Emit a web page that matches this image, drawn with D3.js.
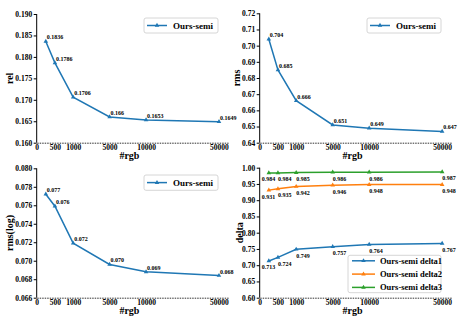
<!DOCTYPE html>
<html><head><meta charset="utf-8">
<script src="https://cdn.jsdelivr.net/npm/d3@7/dist/d3.min.js"></script>
<style>
body{margin:0;background:#fff;}
text{font-family:"Liberation Serif","Times New Roman",serif;font-weight:bold;fill:#000;}
</style></head>
<body>
<svg id="c" width="466" height="322"></svg>
<script>
// ---- data ----
const rgbCounts = [250, 500, 1000, 5000, 10000, 50000];
const xTickValues = [0, 500, 1000, 5000, 10000, 50000];
const xTickLabels = ["0", "500", "1000", "5000", "10000", "50000"];
const relValues = [0.1836, 0.1786, 0.1706, 0.166, 0.1653, 0.1649];
const relLabels = ["0.1836", "0.1786", "0.1706", "0.166", "0.1653", "0.1649"];
const rmsValues = [0.704, 0.685, 0.666, 0.651, 0.649, 0.647];
const rmsLabels = ["0.704", "0.685", "0.666", "0.651", "0.649", "0.647"];
const rmsLogValues = [0.0772, 0.0759, 0.0719, 0.0696, 0.0688, 0.0684];
const rmsLogLabels = ["0.077", "0.076", "0.072", "0.070", "0.069", "0.068"];
const delta1 = [0.713, 0.724, 0.749, 0.757, 0.764, 0.767];
const delta2 = [0.931, 0.935, 0.942, 0.946, 0.948, 0.948];
const delta3 = [0.984, 0.984, 0.985, 0.986, 0.986, 0.987];
const seriesNames = ["Ours-semi", "Ours-semi delta1", "Ours-semi delta2", "Ours-semi delta3"];
const colors = ["#1f77b4", "#ff7f0e", "#2ca02c"];

const svg = d3.select("#c");

function panel(cfg) {
  const g = svg.append("g");
  const u = (cfg.x1 - cfg.x0) / 5.25;
  const x = d3.scaleLinear()
    .domain([0, 500, 1000, 5000, 10000, 50000, 60000])
    .range([0, 0.5, 1, 2, 3, 5, 5.25].map(p => cfg.x0 + p * u));
  const y = d3.scaleLinear().domain(cfg.yDomain).range([cfg.yb, cfg.yt]);

  // y axis
  const ya = g.append("g").attr("transform", `translate(${cfg.x0},0)`)
    .call(d3.axisLeft(y).tickValues(d3.range(cfg.yDomain[0], cfg.yDomain[1] + cfg.yStep / 2, cfg.yStep))
      .tickFormat(d3.format(cfg.yFmt)).tickSize(3).tickPadding(1.5));
  ya.select(".domain").attr("stroke", "#000").attr("stroke-width", 1).attr("d", `M0,${cfg.yt}V${cfg.yb}`);
  ya.selectAll("text").style("font-size", "7.5px").style("font-family", "Liberation Serif").style("font-weight", "bold");
  ya.selectAll("line").attr("stroke", "#000");

  // x axis
  const xa = g.append("g").attr("transform", `translate(0,${cfg.yb})`)
    .call(d3.axisBottom(x).tickValues(xTickValues).tickFormat((d, i) => xTickLabels[i]).tickSize(0).tickPadding(2));
  xa.select(".domain").attr("stroke", "#333").attr("stroke-width", 1).attr("stroke-dasharray", "1.5,1");
  xa.selectAll("text").style("font-size", "7.5px").style("font-family", "Liberation Serif").style("font-weight", "bold");

  // axis titles
  g.append("text").attr("x", (cfg.x0 + cfg.x1) / 2 - 3).attr("y", cfg.yb + 16)
    .attr("text-anchor", "middle").style("font-size", "10px").text("#rgb");
  g.append("text").attr("transform", `translate(${cfg.ylx},${(cfg.yt + cfg.yb) / 2}) rotate(-90)`)
    .attr("text-anchor", "middle").style("font-size", "10px").text(cfg.ylabel);

  const line = d3.line().x((d, i) => x(rgbCounts[i])).y(d => y(d));
  const tri = d3.symbol().type(d3.symbolTriangle).size(9);

  cfg.series.forEach((s, k) => {
    g.append("path").datum(s.values).attr("d", line).attr("fill", "none")
      .attr("stroke", colors[k]).attr("stroke-width", 1.5);
    g.selectAll(null).data(s.values).enter().append("path")
      .attr("d", tri).attr("fill", colors[k])
      .attr("transform", (d, i) => `translate(${x(rgbCounts[i])},${y(d)})`);
    g.selectAll(null).data(s.values).enter().append("text")
      .attr("x", (d, i) => x(rgbCounts[i]) + (cfg.below ? (i === 0 ? -7 : 0) : 1))
      .attr("y", d => y(d) + (cfg.below ? 8.5 : -2))
      .style("font-size", "6px").text((d, i) => s.labels[i]);
  });

  // legend
  const L = cfg.legend;
  g.append("rect").attr("x", L.x).attr("y", L.y).attr("width", L.w).attr("height", L.h)
    .attr("rx", 2).attr("fill", "#fff").attr("stroke", "#ccc").attr("stroke-width", 0.8);
  cfg.series.forEach((s, k) => {
    const cy = L.y + L.pad + k * L.row;
    g.append("line").attr("x1", L.x + L.lx0).attr("x2", L.x + L.lx1).attr("y1", cy).attr("y2", cy)
      .attr("stroke", colors[k]).attr("stroke-width", 1.5);
    g.append("path").attr("d", tri).attr("fill", colors[k])
      .attr("transform", `translate(${L.x + (L.lx0 + L.lx1) / 2},${cy})`);
    g.append("text").attr("x", L.x + L.tx).attr("y", cy + 3).style("font-size", L.fs + "px").text(s.name);
  });
}

panel({x0: 36.7, x1: 228.1, yt: 14, yb: 142.7, yDomain: [0.160, 0.190], yStep: 0.005, yFmt: ".3f",
  ylabel: "rel", ylx: 13,
  series: [{name: seriesNames[0], values: relValues, labels: relLabels}],
  legend: {x: 144, y: 18, w: 74, h: 15, pad: 7.5, row: 13, lx0: 3, lx1: 23, tx: 29, fs: 9}});

panel({x0: 259.7, x1: 451.3, yt: 13.3, yb: 142.7, yDomain: [0.64, 0.72], yStep: 0.01, yFmt: ".2f",
  ylabel: "rms", ylx: 239.5,
  series: [{name: seriesNames[0], values: rmsValues, labels: rmsLabels}],
  legend: {x: 367, y: 18, w: 74, h: 15, pad: 7.5, row: 13, lx0: 3, lx1: 23, tx: 29, fs: 9}});

panel({x0: 36.7, x1: 228.1, yt: 168.3, yb: 297.7, yDomain: [0.066, 0.080], yStep: 0.002, yFmt: ".3f",
  ylabel: "rms(log)", ylx: 13,
  series: [{name: seriesNames[0], values: rmsLogValues, labels: rmsLogLabels}],
  legend: {x: 144, y: 175, w: 74, h: 15.3, pad: 7.6, row: 13, lx0: 3, lx1: 23, tx: 29, fs: 9}});

panel({x0: 259.7, x1: 451.3, yt: 167.7, yb: 297.7, yDomain: [0.60, 1.00], yStep: 0.05, yFmt: ".2f",
  ylabel: "delta", ylx: 242.5, below: true,
  series: [
    {name: seriesNames[1], values: delta1, labels: delta1.map(v => d3.format(".3f")(v))},
    {name: seriesNames[2], values: delta2, labels: delta2.map(v => d3.format(".3f")(v))},
    {name: seriesNames[3], values: delta3, labels: delta3.map(v => d3.format(".3f")(v))}],
  legend: {x: 348, y: 255.3, w: 93, h: 37.4, pad: 5.5, row: 13.3, lx0: 4, lx1: 27, tx: 32, fs: 8.5}});
</script>
</body></html>
